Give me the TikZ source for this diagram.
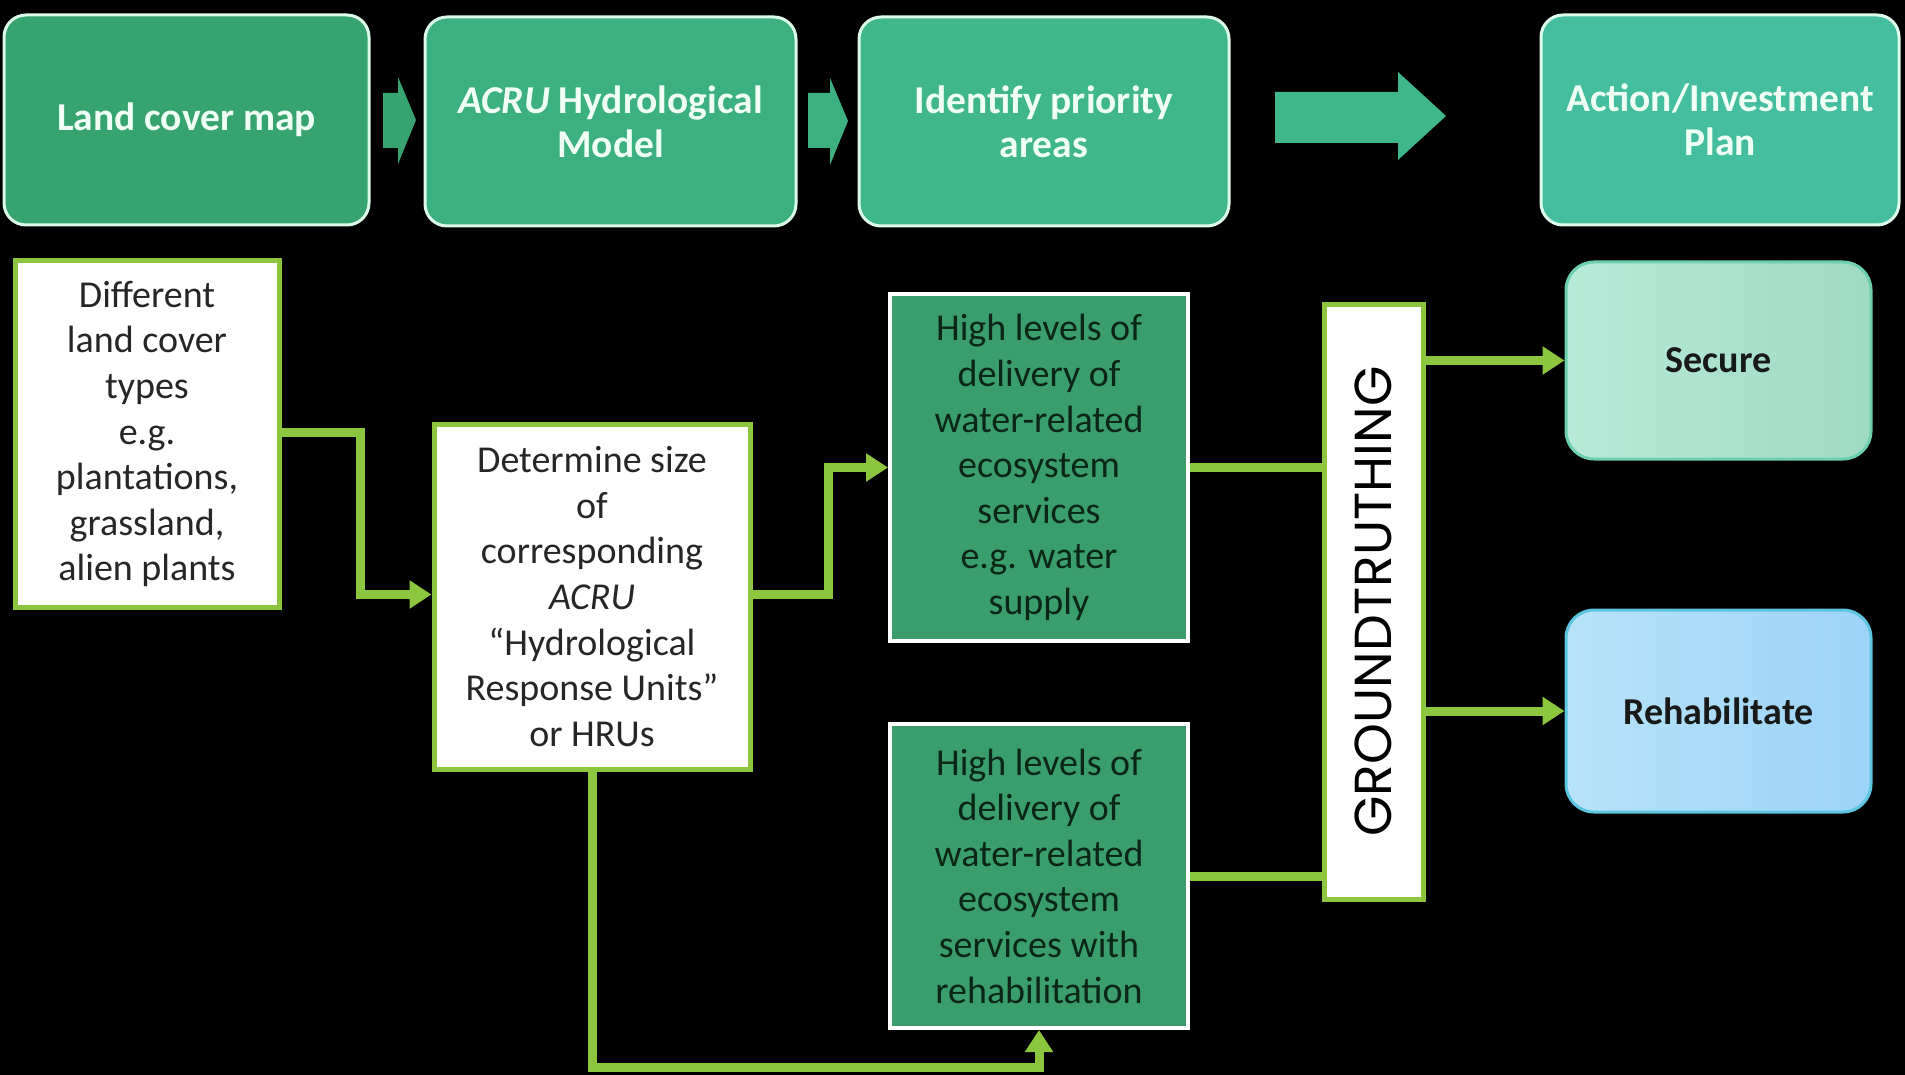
\documentclass[tikz,border=0pt]{standalone}
\usepackage{fontspec}
\setmainfont{Carlito}
\newfontfamily\gtfont{Poppins}
\usetikzlibrary{arrows.meta,calc}
\definecolor{tA}{HTML}{37A36F}
\definecolor{tB}{HTML}{3CB07F}
\definecolor{tC}{HTML}{40B78A}
\definecolor{tD}{HTML}{44BE9E}
\definecolor{tborder}{HTML}{DDFBEA}
\definecolor{ttext}{HTML}{F0FFF5}
\definecolor{lime}{HTML}{8CC63F}
\definecolor{hfill}{HTML}{3A9E6C}
\definecolor{htext}{HTML}{0B2616}
\definecolor{secA}{HTML}{B8EAD8}
\definecolor{secB}{HTML}{9FDAC3}
\definecolor{secBorder}{HTML}{6CCFAE}
\definecolor{rehA}{HTML}{B8E3F8}
\definecolor{rehB}{HTML}{9CD3F8}
\definecolor{rehBorder}{HTML}{5CC5E0}
\begin{document}
\begin{tikzpicture}[x=1pt,y=-1pt,
  topbox/.style={draw=tborder, line width=3pt, rounded corners=22pt, inner sep=0pt,
    align=center, text=ttext, font=\fontsize{39.5}{44}\selectfont\bfseries},
  whitebox/.style={draw=lime, fill=white, line width=5pt, inner sep=0pt, align=center,
    text=black!85, font=\fontsize{38}{45.6}\selectfont},
  greenbox/.style={draw=white, fill=hfill, line width=4pt, inner sep=0pt, align=center,
    text=htext, font=\fontsize{38}{45.6}\selectfont},
  resbox/.style={line width=3pt, rounded corners=28pt, inner sep=0pt, align=center,
    text=black!90, font=\fontsize{38}{44}\selectfont\bfseries,
    minimum width=305pt},
  link/.style={draw=lime, line width=9pt},
  tip/.style={-{Triangle[length=22pt,width=27pt]}}
]
\useasboundingbox (0,0) rectangle (1905,1075);
\fill[black] (0,0) rectangle (1905,1075);

% top row
\node[topbox, fill=tA, minimum width=365pt, minimum height=210pt] (b1) at (186.5,120) {Land cover map};
\node[topbox, fill=tB, minimum width=371pt, minimum height=209pt] (b2) at (610.5,121.5) {\textit{ACRU} Hydrological\\Model};
\node[topbox, fill=tC, minimum width=370pt, minimum height=209pt] (b3) at (1044,121.5) {Identify priority\\areas};
\node[topbox, fill=tD, minimum width=358pt, minimum height=210pt] (b4) at (1720,120) {Action/Investment\\Plan};

% block arrows
\fill[tA] (383,93) -- (398,93) -- (398,77) -- (416,120) -- (398,164) -- (398,148) -- (383,148) -- cycle;
\fill[tB] (808,93) -- (830,93) -- (830,78) -- (848,121) -- (830,165) -- (830,148) -- (808,148) -- cycle;
\fill[tC] (1275,92) -- (1398,92) -- (1398,72) -- (1446,116) -- (1398,160) -- (1398,143) -- (1275,143) -- cycle;

% bottom boxes
\node[whitebox, minimum width=264pt, minimum height=346pt] (diff) at (147,434)
  {Different\\land cover\\types\\e.g.\\plantations,\\grassland,\\alien plants};
\node[whitebox, minimum width=316pt, minimum height=345pt] (det) at (592,596.5)
  {Determine size\\of\\corresponding\\\textit{ACRU}\\“Hydrological\\Response Units”\\or HRUs};
\node[greenbox, minimum width=298pt, minimum height=347pt] (high1) at (1039,467.5)
  {High levels of\\delivery of\\water-related\\ecosystem\\services\\e.g. water\\supply};
\node[greenbox, minimum width=298pt, minimum height=304pt] (high2) at (1039,876)
  {High levels of\\delivery of\\water-related\\ecosystem\\services with\\rehabilitation};
\node[draw=lime, fill=white, line width=5pt, inner sep=0pt, minimum width=595pt, minimum height=99pt,
  rotate=90, font=\gtfont\fontsize{52}{52}\selectfont, text=black] (gt) at (1373.5,601.5) {GROUNDTRUTHING};
\node[resbox, draw=secBorder, left color=secA, right color=secB, minimum height=197pt] (sec) at (1718.5,360.5) {Secure};
\node[resbox, draw=rehBorder, left color=rehA, right color=rehB, minimum height=202pt] (reh) at (1718.5,711) {Rehabilitate};

% connectors
\draw[link, tip] ([yshift=2pt]diff.east) -- ++(79,0) |- ([yshift=2pt]det.west);
\draw[link, tip] ([yshift=2pt]det.east) -- ++(76,0) |- (high1.west);
\draw[link, tip] (det.south) -- ++(0,296) -| (high2.south);
\draw[link] (high1.east) -- (high1.east -| gt.north);
\draw[link] (high2.east) -- (high2.east -| gt.north);
\draw[link, tip] (gt.south |- sec.west) -- (sec.west);
\draw[link, tip] (gt.south |- reh.west) -- (reh.west);
\end{tikzpicture}
\end{document}
